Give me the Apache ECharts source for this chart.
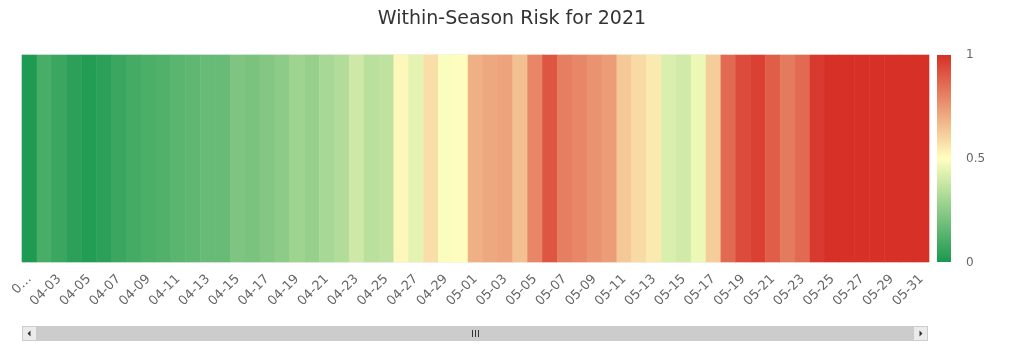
<!DOCTYPE html>
<html>
<head>
<meta charset="utf-8">
<script src="https://cdn.jsdelivr.net/npm/echarts@6/dist/echarts.min.js"></script>
<style>
html,body{margin:0;padding:0;background:#fff;}
#chart{width:1024px;height:361px;}
</style>
</head>
<body>
<div id="chart"></div>
<script>
// ---- data ----
const titleText = 'Within-Season Risk for 2021';
const days = [];
for (let d = 1; d <= 30; d++) days.push('04-' + String(d).padStart(2, '0'));
for (let d = 1; d <= 31; d++) days.push('05-' + String(d).padStart(2, '0'));
const riskValues = [
  0.01, 0.10, 0.07, 0.04, 0.02, 0.04, 0.07, 0.09, 0.11, 0.12,
  0.14, 0.15, 0.17, 0.17, 0.22, 0.21, 0.23, 0.25, 0.29, 0.27,
  0.31, 0.33, 0.39, 0.35, 0.36, 0.52, 0.44, 0.58, 0.49, 0.505,
  0.69, 0.71, 0.72, 0.65, 0.79, 0.91, 0.81, 0.79, 0.76, 0.74,
  0.63, 0.59, 0.55, 0.42, 0.40, 0.46, 0.62, 0.86, 0.935, 0.96,
  0.89, 0.82, 0.86, 0.975, 1, 1, 1, 1, 1, 1, 1
];
const legendTicks = ['1', '0.5', '0'];
const colorStops = ['#1a9850', '#ffffbf', '#d73027'];

// ---- chart ----
const heatData = riskValues.map((v, i) => [i, 0, v]);
const chart = echarts.init(document.getElementById('chart'));
const plotTop = 55, plotBottom = 262;
const legX = 937, legW = 14;
chart.setOption({
  animation: false,
  backgroundColor: '#ffffff',
  title: {
    text: titleText,
    left: 'center',
    top: 5,
    textStyle: { fontFamily: 'DejaVu Sans', fontSize: 19, fontWeight: 'normal', color: '#333333' }
  },
  grid: { left: 22, right: 95, top: plotTop, bottom: 361 - plotBottom, show: true, borderColor: '#e3e3e3', borderWidth: 1 },
  xAxis: {
    type: 'category',
    data: days,
    axisLine: { show: false },
    axisTick: { show: false },
    splitLine: { show: false },
    axisLabel: {
      interval: 1,
      rotate: 45,
      margin: 15,
      color: '#666666',
      fontFamily: 'DejaVu Sans',
      fontSize: 13,
      formatter: (v, i) => i === 0 ? '0\u2026' : v
    }
  },
  yAxis: {
    type: 'category',
    data: [''],
    show: false
  },
  visualMap: {
    type: 'continuous',
    min: 0,
    max: 1,
    show: false,
    inRange: { color: colorStops }
  },
  series: [{
    type: 'heatmap',
    data: heatData,
    itemStyle: { borderWidth: 0 },
    emphasis: { disabled: true }
  }],
  graphic: [
    // colour legend
    { type: 'rect', shape: { x: legX, y: plotTop, width: legW, height: plotBottom - plotTop },
      style: { fill: new echarts.graphic.LinearGradient(0, 0, 0, 1, [
        { offset: 0, color: colorStops[2] }, { offset: 0.5, color: colorStops[1] }, { offset: 1, color: colorStops[0] }
      ]) } },
    { type: 'text', left: 966, top: plotTop - 6, style: { text: legendTicks[0], fill: '#666', font: '12px DejaVu Sans' } },
    { type: 'text', left: 966, top: (plotTop + plotBottom) / 2 - 6, style: { text: legendTicks[1], fill: '#666', font: '12px DejaVu Sans' } },
    { type: 'text', left: 966, top: plotBottom - 5, style: { text: legendTicks[2], fill: '#666', font: '12px DejaVu Sans' } },
    // scrollbar
    { type: 'rect', shape: { x: 22, y: 326, width: 906, height: 15 }, style: { fill: '#cccccc' } },
    { type: 'rect', shape: { x: 22.5, y: 326.5, width: 14, height: 14 }, style: { fill: '#ebebeb', stroke: '#cccccc', lineWidth: 1 } },
    { type: 'polygon', shape: { points: [[27.5, 333.5], [30.5, 330.5], [30.5, 336.5]] }, style: { fill: '#333' } },
    { type: 'rect', shape: { x: 913.5, y: 326.5, width: 14, height: 14 }, style: { fill: '#ebebeb', stroke: '#cccccc', lineWidth: 1 } },
    { type: 'polygon', shape: { points: [[922.5, 333.5], [919.5, 330.5], [919.5, 336.5]] }, style: { fill: '#333' } },
    { type: 'line', shape: { x1: 472.5, y1: 330, x2: 472.5, y2: 337 }, style: { stroke: '#333', lineWidth: 1 } },
    { type: 'line', shape: { x1: 475.5, y1: 330, x2: 475.5, y2: 337 }, style: { stroke: '#333', lineWidth: 1 } },
    { type: 'line', shape: { x1: 478.5, y1: 330, x2: 478.5, y2: 337 }, style: { stroke: '#333', lineWidth: 1 } }
  ]
});
</script>
</body>
</html>
